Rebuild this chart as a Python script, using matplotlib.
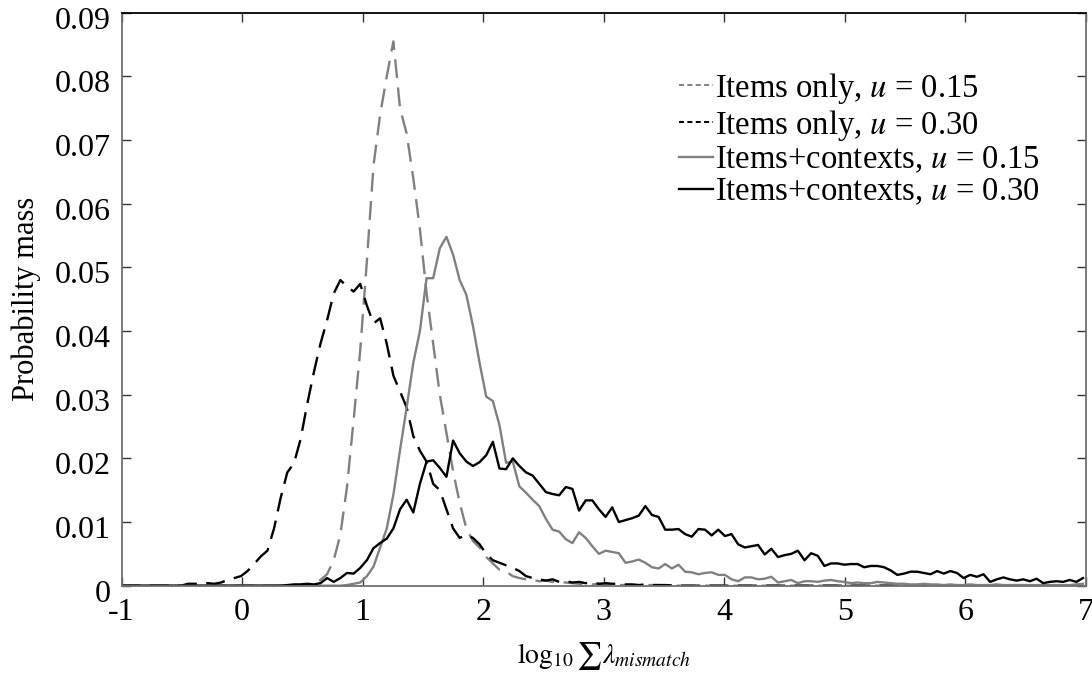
import numpy as np
import matplotlib
matplotlib.use("Agg")
import matplotlib.pyplot as plt
from matplotlib.lines import Line2D
from matplotlib.transforms import ScaledTranslation

plt.rcParams['font.family'] = ['Liberation Serif', 'DejaVu Serif']
plt.rcParams['mathtext.fontset'] = 'stix'
plt.rcParams['axes.unicode_minus'] = False

x_start = -1.0
bin_w = 0.055

# probability mass per bin, in thousandths
items_u015 = [
    0, 0, 0, 0, 0, 0, 0, 0, 0, 0,
    0, 0, 0, 0, 0, 0, 0, 0, 0, 0,
    0, 0, 0, 0, 0.05, 0.1, 0.1, 0.15, 0.2, 0.4,
    0.9, 1.8, 4.0, 8.0, 15.5, 26, 37, 51, 66, 74,
    80, 85.5, 75, 71, 64, 56, 46, 38, 30, 24,
    18, 13, 9, 7, 6, 4.5, 3.5, 2.5, 2.2, 1.5,
    1.2, 1.0, 0.9, 0.7, 0.8, 0.6, 0.5, 0.5, 0.4, 0.3,
    0.3, 0.2, 0.3, 0.2, 0.2, 0.1, 0.1, 0.1, 0.1, 0.1,
    0.1, 0.1, 0.05, 0.05, 0, 0, 0, 0, 0, 0,
    0, 0, 0, 0, 0, 0, 0, 0, 0, 0,
    0, 0, 0, 0, 0, 0, 0, 0, 0, 0,
    0, 0, 0, 0, 0, 0, 0, 0, 0, 0,
    0, 0, 0, 0, 0, 0, 0, 0, 0, 0,
    0, 0, 0, 0, 0, 0, 0, 0, 0, 0,
    0, 0, 0, 0, 0, 0,
]
items_u030 = [
    0, 0, 0, 0, 0, 0, 0, 0, 0, 0,
    0.3, 0.3, 0.3, 0.4, 0.3, 0.5, 0.9, 1.2, 1.5, 2.3,
    3.4, 4.6, 5.5, 9.0, 13.8, 17.8, 19.2, 23, 28.5, 33.5,
    38, 41.7, 45.9, 48, 47, 46.2, 47.4, 44, 41.2, 42,
    38, 33, 30.5, 28, 23.5, 21.2, 19.5, 16, 15, 12,
    9, 7.5, 8, 7.5, 6.5, 5, 4, 3.6, 3.2, 2.8,
    2.3, 1.5, 1.2, 1.0, 0.8, 1.0, 0.6, 0.7, 0.5, 0.6,
    0.4, 0.5, 0.3, 0.4, 0.3, 0.3, 0.2, 0.2, 0.1, 0.2,
    0.1, 0.1, 0.1, 0.05, 0, 0, 0, 0, 0, 0,
    0, 0, 0, 0, 0, 0, 0, 0, 0, 0,
    0, 0, 0, 0, 0, 0, 0, 0, 0, 0,
    0, 0, 0, 0, 0, 0, 0, 0, 0, 0,
    0, 0, 0, 0, 0, 0, 0, 0, 0, 0,
    0, 0, 0, 0, 0, 0, 0, 0, 0, 0,
    0, 0, 0, 0, 0, 0,
]
ctx_u015 = [
    0, 0, 0, 0, 0, 0, 0, 0, 0, 0,
    0, 0, 0, 0, 0, 0, 0, 0, 0, 0,
    0, 0, 0, 0, 0, 0, 0, 0, 0, 0,
    0, 0, 0, 0, 0.1, 0.3, 0.5, 1.5, 3, 6,
    9, 14.3, 21.3, 28, 35, 40, 48.3, 48.3, 53, 54.8,
    52, 48, 45.7, 40.8, 35, 29.7, 29, 25.2, 19.3, 19.5,
    15.6, 14.6, 13.5, 12.5, 10.5, 8.8, 8.5, 7.3, 6.7, 8.4,
    7.5, 6.2, 5.0, 5.5, 5.3, 5.1, 3.6, 3.8, 4.1, 3.6,
    2.9, 2.7, 3.4, 2.7, 3.3, 2.2, 2.1, 1.8, 2.0, 2.1,
    1.7, 1.7, 1.0, 0.7, 1.3, 1.3, 1.0, 1.1, 1.4, 0.5,
    0.7, 0.9, 0.4, 0.7, 0.7, 0.6, 0.8, 0.9, 0.7, 0.6,
    0.4, 0.5, 0.4, 0.4, 0.6, 0.5, 0.4, 0.3, 0.3, 0.2,
    0.2, 0.3, 0.2, 0.2, 0.1, 0.2, 0.1, 0.1, 0.2, 0.1,
    0.1, 0.1, 0.2, 0.1, 0.1, 0.1, 0.1, 0.1, 0.1, 0.1,
    0.1, 0.1, 0.1, 0.1, 0.2, 0.3,
]
ctx_u030 = [
    0, 0, 0, 0, 0, 0, 0, 0, 0, 0,
    0, 0, 0, 0, 0, 0, 0, 0, 0, 0,
    0, 0, 0, 0, 0, 0.1, 0.2, 0.2, 0.3, 0.2,
    0.4, 1.2, 0.6, 1.2, 2.0, 1.9, 2.8, 4.0, 5.9, 6.7,
    7.4, 9.0, 12, 13.5, 11.5, 16, 19.5, 19.7, 18.5, 17.1,
    22.8, 20.8, 19.5, 18.8, 19.4, 20.5, 22.6, 18.4, 18.3, 20,
    18.8, 17.8, 17.3, 16.0, 14.7, 14.4, 14.2, 15.5, 15.2, 11.8,
    13.4, 13.4, 12.0, 10.8, 12.3, 10.0, 10.3, 10.6, 11.0, 12.5,
    11.1, 10.8, 8.8, 8.8, 8.9, 8.1, 7.7, 8.9, 8.8, 7.9,
    8.8, 7.8, 8.1, 6.5, 6.0, 6.2, 6.4, 4.9, 5.8, 4.5,
    4.8, 5.0, 5.5, 4.0, 5.1, 4.7, 3.1, 3.5, 3.5, 3.3,
    3.4, 3.4, 2.9, 3.1, 3.1, 2.9, 2.4, 1.7, 1.9, 2.2,
    2.2, 2.0, 1.8, 2.3, 1.9, 2.3, 2.0, 1.2, 1.7, 1.4,
    1.8, 0.6, 1.0, 1.3, 1.0, 0.8, 1.0, 0.7, 1.1, 0.4,
    0.6, 0.7, 0.6, 0.9, 0.6, 1.2,
]

labels = ["Items only, $u$ = 0.15", "Items only, $u$ = 0.30",
          "Items+contexts, $u$ = 0.15", "Items+contexts, $u$ = 0.30"]
gray = '#808080'

fig = plt.figure(figsize=(10.92, 6.75), dpi=100)
ax = fig.add_axes([0.1113, 0.1323, 0.8832, 0.8489])

series = [(items_u015, gray, '--'), (items_u030, 'black', '--'),
          (ctx_u015, gray, '-'), (ctx_u030, 'black', '-')]
handles = []
for (vals, c, ls), lab in zip(series, labels):
    y = np.array(vals) / 1000.0
    x = x_start + bin_w * np.arange(len(y))
    if ls == '--':
        ax.plot(x, y, color=c, lw=1.7, dashes=(8, 4))
        handles.append(Line2D([], [], color=c, lw=1.4, dashes=(2.6, 1.7)))
    else:
        ax.plot(x, y, color=c, lw=1.7)
        handles.append(Line2D([], [], color=c, lw=1.7))

ax.set_xlim(-1, 7)
ax.set_ylim(0, 0.09)
ax.set_xticks(range(-1, 8))
ax.set_yticks(np.arange(0, 0.091, 0.01))
ax.set_yticklabels(['0'] + ['%.2f' % v for v in np.arange(0.01, 0.091, 0.01)])
ax.tick_params(direction='in', length=6.5, width=1, labelsize=23,
               top=True, right=True, color='#333333')
ax.tick_params(axis='x', pad=9)
ax.tick_params(axis='y', pad=8)

for lab in ax.get_yticklabels():
    lab.set_transform(lab.get_transform() + ScaledTranslation(0, -5 / 100, fig.dpi_scale_trans))

for s in ['left', 'bottom', 'right']:
    ax.spines[s].set_color('#707070')
    ax.spines[s].set_linewidth(1.3)
ax.spines['top'].set_color('black')
ax.spines['top'].set_linewidth(1.3)

ax.set_ylabel('Probability mass', fontsize=22, labelpad=10)
ax.set_xlabel(r'$\log_{10}\sum\lambda_{mismatch}$', fontsize=20, labelpad=9)

ax.legend(handles, labels, loc='upper left', bbox_to_anchor=(0.578, 0.899),
          frameon=False, fontsize=23.5, handlelength=1.05, handletextpad=0.05,
          labelspacing=0.06, borderpad=0, borderaxespad=0)

fig.savefig('out.png', dpi=100)
